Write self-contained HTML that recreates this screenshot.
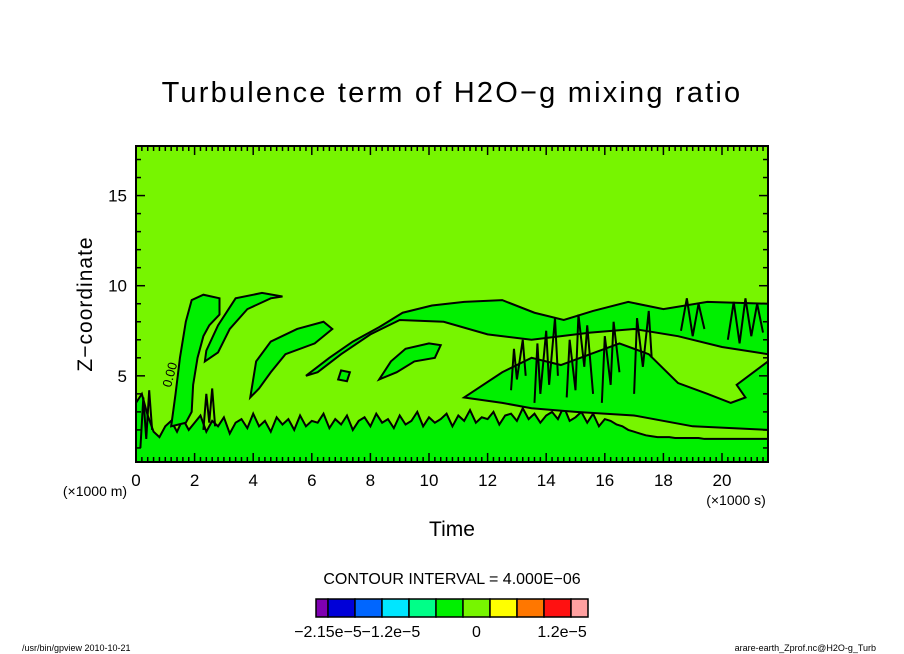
<!DOCTYPE html>
<html><head><meta charset="utf-8"><style>
body{margin:0;background:#fff;}
svg{display:block;font-family:"Liberation Sans",sans-serif;}
</style></head><body>
<svg id="chart" width="904" height="654" viewBox="0 0 904 654">
<rect width="904" height="654" fill="#fff"/>
<text x="452" y="102" text-anchor="middle" font-size="29" letter-spacing="2.2">Turbulence term of H2O−g mixing ratio</text>
<g id="plot"></g>
<g id="axes"></g>
<text transform="translate(92,304) rotate(-90)" text-anchor="middle" font-size="21" letter-spacing="1">Z−coordinate</text>
<text x="452" y="536" text-anchor="middle" font-size="21">Time</text>
<text x="95" y="496" text-anchor="middle" font-size="14">(×1000 m)</text>
<text x="736" y="505" text-anchor="middle" font-size="14">(×1000 s)</text>
<text x="452" y="584" text-anchor="middle" font-size="16">CONTOUR INTERVAL = 4.000E−06</text>
<g id="legend"></g>
<text x="22" y="651" font-size="9">/usr/bin/gpview   2010-10-21</text>
<text x="876" y="651" text-anchor="end" font-size="9">arare-earth_Zprof.nc@H2O-g_Turb</text>
</svg>
<script>
const xTicks=[0,2,4,6,8,10,12,14,16,18,20];
const yTicks=[5,10,15];
const xDomain=[0,21.57];
const yDomain=[0.22,17.75];
// bottom band top heights at x = 0,0.2,0.4,...
const bandTop=[3.5,4,2.8,1.9,1.6,2.2,2.5,1.9,2.6,2.0,2.4,2.8,1.9,2.5,2.2,2.7,1.8,2.4,2.6,2.1,2.9,2.2,2.5,1.9,2.7,2.3,2.6,2.0,2.8,2.2,2.5,2.4,2.9,2.1,2.6,2.3,2.8,2.0,2.5,2.7,2.2,2.9,2.4,2.6,2.1,2.8,2.3,2.5,3.0,2.2,2.7,2.4,2.6,2.9,2.2,2.8,2.5,3.1,2.4,2.7,2.6,3.0,2.3,2.8,2.9,2.5,3.2,2.6,2.9,2.4,2.8,3.0,2.6,3.3,2.5,2.7,3.0,2.4,2.9,2.2,2.6,2.5,2.3,2.2,2.0,1.9,1.8,1.7,1.65,1.6,1.6,1.6,1.55,1.55,1.55,1.55,1.55,1.5,1.5,1.5,1.5,1.5,1.5,1.5,1.5,1.5,1.5,1.5,1.5];
const blobs=[
 [[1.2,2.2],[1.35,4],[1.5,6],[1.7,8],[1.9,9.2],[2.3,9.5],[2.85,9.3],[2.85,8.4],[2.5,7.8],[2.3,7.2],[2.1,6],[1.95,4.5],[1.9,3.0],[1.7,2.4]],
 [[2.35,5.8],[2.8,6.3],[3.2,7.6],[3.8,8.7],[4.6,9.3],[5.0,9.4],[4.3,9.6],[3.4,9.3],[2.8,7.8],[2.4,6.4]],
 [[3.9,3.8],[4.1,5.8],[4.6,6.9],[5.5,7.6],[6.4,8.0],[6.7,7.6],[6.1,6.8],[5.1,6.2],[4.6,5.2],[4.2,4.3]],
 [[5.8,5.0],[6.6,6.0],[7.4,6.9],[8.3,7.7],[9.1,8.5],[10.1,8.9],[11.2,9.1],[12.5,9.2],[13.6,8.5],[14.6,8.1],[15.6,8.6],[16.8,9.1],[18,8.7],[19.5,9.1],[21.57,9.0],[21.57,6.2],[20,6.6],[18.5,7.2],[17,7.6],[15.5,7.4],[13.5,7.0],[12,7.3],[10.5,8.0],[9,8.1],[8,7.3],[7,6.2],[6.2,5.2]],
 [[8.3,4.8],[8.7,5.8],[9.2,6.5],[10,6.8],[10.4,6.7],[10.2,6.0],[9.5,5.8],[8.9,5.2]],
 [[6.9,4.8],[7.0,5.3],[7.3,5.2],[7.2,4.7]],
 [[11.2,3.8],[12.5,5.2],[13.5,6.0],[14.5,5.6],[15.5,6.2],[16.5,6.8],[17.5,6.2],[18.5,4.6],[19.5,4.0],[20.3,3.5],[20.8,3.8],[20.5,4.5],[21.57,5.8],[21.57,2.0],[19,2.2],[17,2.8],[15,3.0],[13.5,3.2],[12.5,3.5]]
];
// jagged contour fragments in the turbulent right region
const jags=[
 [[12.8,4.2],[12.9,6.5],[13.0,4.8],[13.2,7.0],[13.3,5.0]],
 [[13.6,3.5],[13.7,6.8],[13.8,4.0],[14.0,7.5],[14.1,4.5],[14.3,8.2],[14.4,5.0]],
 [[14.7,3.8],[14.8,7.0],[15.0,4.2],[15.1,8.4],[15.3,5.5],[15.4,7.8],[15.6,4.0]],
 [[15.9,3.5],[16.0,7.2],[16.2,4.5],[16.3,8.0],[16.5,5.2]],
 [[17.0,4.0],[17.1,8.2],[17.3,5.5],[17.5,8.6],[17.6,6.0]],
 [[18.6,7.5],[18.8,9.3],[19.0,7.2],[19.2,9.0],[19.4,7.6]],
 [[20.2,7.0],[20.4,9.1],[20.6,6.8],[20.8,9.3],[21.0,7.2],[21.2,9.0],[21.4,7.4]],
 [[0.15,1.0],[0.25,3.8],[0.35,1.5],[0.45,4.2],[0.55,2.0]],
 [[2.3,2.0],[2.4,4.0],[2.5,2.4],[2.6,4.3],[2.7,2.2]]
];
const legendColors=["#7f00b2","#0000d8","#0066ff","#00e6ff","#00ff88","#00f000","#77f500","#ffff00","#ff7700","#ff1111","#ffa0a0"];
const legendLabels=[["−2.15e−5",0],["−1.2e−5",2.33],["0",5.5],["1.2e−5",8.67]];

const L=136,R=768,T=146,B=462;
const sx=v=>L+(v-xDomain[0])/(xDomain[1]-xDomain[0])*(R-L);
const sy=v=>B-(v-yDomain[0])/(yDomain[1]-yDomain[0])*(B-T);
const NS="http://www.w3.org/2000/svg";
const mk=(t,a,p)=>{const e=document.createElementNS(NS,t);for(const k in a)e.setAttribute(k,a[k]);p.appendChild(e);return e;};
const plot=document.getElementById('plot'),axes=document.getElementById('axes');
const bg=mk('rect',{x:L,y:T,width:R-L,height:B-T,fill:"#77f500"},plot);


let pts=[[0,yDomain[0]]];
bandTop.forEach((h,i)=>{const x=Math.min(i*0.2,xDomain[1]);pts.push([x,h]);});
pts.push([xDomain[1],yDomain[0]]);
const band=mk('polygon',{points:pts.map(p=>sx(p[0])+','+sy(p[1])).join(' '),fill:"#00f000",stroke:"#000","stroke-width":2},plot);


blobs.forEach((b,i)=>{
 const p=mk('polygon',{points:b.map(q=>sx(q[0])+','+sy(q[1])).join(' '),fill:"#00f000",stroke:"#000","stroke-width":2},plot);
 
 
});
jags.forEach(j=>{
 const p=mk('polyline',{points:j.map(q=>sx(q[0])+','+sy(q[1])).join(' '),fill:"none",stroke:"#000","stroke-width":2},plot);
 
 
});
const lab=mk('text',{transform:`translate(${sx(1.3)},${sy(5)}) rotate(-75)`,"font-size":13,"text-anchor":"middle"},plot);
lab.textContent="0.00";


const fr=mk('rect',{x:L,y:T,width:R-L,height:B-T,fill:"none",stroke:"#000","stroke-width":2},axes);


for(let v=0;v<=xDomain[1];v+=0.2){const x=sx(v),maj=Math.abs(v-Math.round(v/2)*2)<0.01,len=maj?9:5;
 mk('line',{x1:x,y1:B,x2:x,y2:B-len,stroke:"#000","stroke-width":1.5},axes);
 mk('line',{x1:x,y1:T,x2:x,y2:T+len,stroke:"#000","stroke-width":1.5},axes);}
for(let v=1;v<=17;v++){const y=sy(v),len=v%5==0?9:5;
 mk('line',{x1:L,y1:y,x2:L+len,y2:y,stroke:"#000","stroke-width":1.5},axes);
 mk('line',{x1:R,y1:y,x2:R-len,y2:y,stroke:"#000","stroke-width":1.5},axes);}
xTicks.forEach(v=>{const t=mk('text',{x:sx(v),y:486,"text-anchor":"middle","font-size":17},axes);t.textContent=v;
 
 });
yTicks.forEach(v=>{const t=mk('text',{x:127,y:sy(v)+6,"text-anchor":"end","font-size":17},axes);t.textContent=v;
 
 });
const lg=document.getElementById('legend');
const cx=[316,328,355,382,409,436,463,490,517,544,571,588];
legendColors.forEach((c,i)=>{const r=mk('rect',{x:cx[i],y:599,width:cx[i+1]-cx[i],height:18,fill:c,stroke:"#000","stroke-width":1.5},lg);
 
 });
legendLabels.forEach(([s,k])=>{const t=mk('text',{x:328+k*27,y:637,"text-anchor":"middle","font-size":16},lg);t.textContent=s;
 
 });
</script>
</body></html>
